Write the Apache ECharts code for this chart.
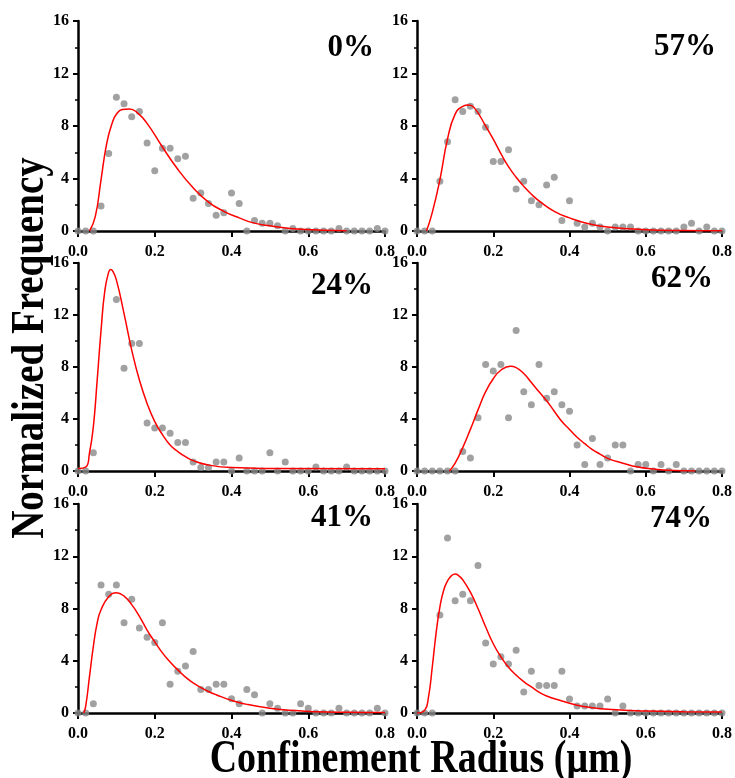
<!DOCTYPE html>
<html>
<head>
<meta charset="utf-8">
<script src="https://cdn.jsdelivr.net/npm/echarts@6/dist/echarts.min.js"></script>
<style>
  html, body { margin: 0; padding: 0; background: #fff; }
  #main { width: 735px; height: 778px; }
</style>
</head>
<body>
<div id="main"></div>
<script>
// bin centres (µm)
var binX = [0, 0.02, 0.04, 0.06, 0.08, 0.10, 0.12, 0.14, 0.16, 0.18, 0.20, 0.22, 0.24, 0.26, 0.28, 0.30,
  0.32, 0.34, 0.36, 0.38, 0.40, 0.42, 0.44, 0.46, 0.48, 0.50, 0.52, 0.54, 0.56, 0.58, 0.60,
  0.62, 0.64, 0.66, 0.68, 0.70, 0.72, 0.74, 0.76, 0.78, 0.80];

var panelNames = ['0%', '57%', '24%', '62%', '41%', '74%'];

// measured histogram values
var freq0  = [0, 0, 0, 1.9, 5.9, 10.2, 9.7, 8.7, 9.1, 6.7, 4.6, 6.3, 6.3, 5.5, 5.7, 2.5, 2.9, 2.1, 1.2, 1.4, 2.9, 2.1, 0, 0.8, 0.6, 0.6, 0.4, 0, 0.2, 0, 0, 0, 0, 0, 0.2, 0, 0, 0, 0, 0.2, 0];
var freq57 = [0, 0, 0, 3.8, 6.8, 10.0, 9.1, 9.5, 9.1, 7.9, 5.3, 5.3, 6.2, 3.2, 3.8, 2.3, 2.0, 3.5, 4.1, 0.8, 2.3, 0.6, 0.3, 0.6, 0.3, 0, 0.3, 0.3, 0.3, 0, 0, 0, 0, 0, 0, 0.3, 0.6, 0, 0.3, 0, 0];
var freq24 = [0, 0, 1.4, null, null, 13.2, 7.9, 9.8, 9.8, 3.7, 3.3, 3.3, 2.9, 2.2, 2.2, 0.7, 0.26, 0.26, 0.7, 0.7, 0, 1.0, 0, 0, 0, 1.4, 0, 0.7, 0, 0, 0, 0.3, 0, 0, 0, 0.3, 0, 0, 0, 0, 0];
var freq62 = [0, 0, 0, 0, 0, 0, 1.5, 1.0, 4.1, 8.2, 7.7, 8.2, 4.1, 10.8, 6.1, 5.1, 8.2, 5.6, 6.1, 5.1, 4.6, 2.0, 0.5, 2.5, 0.5, 1.0, 2.0, 2.0, 0, 0.5, 0.5, 0, 0.5, 0, 0.5, 0, 0, 0, 0, 0, 0];
var freq41 = [0, 0, 0.7, 9.8, 9.1, 9.8, 6.9, 8.7, 6.5, 5.8, 5.4, 6.9, 2.2, 3.2, 3.6, 4.7, 1.8, 1.8, 2.2, 2.2, 1.1, 0.7, 1.8, 1.4, 0, 0.7, 0.36, 0, 0, 0.7, 0.36, 0, 0, 0, 0.36, 0, 0, 0, 0, 0.36, 0];
var freq74 = [0, 0, 0, 7.5, 13.4, 8.6, 9.1, 8.6, 11.3, 5.35, 3.75, 4.3, 3.75, 4.8, 1.6, 3.2, 2.1, 2.1, 2.1, 3.2, 1.07, 0.53, 0.53, 0.53, 0.53, 1.07, 0, 0.53, 0, 0, 0, 0, 0, 0, 0, 0, 0, 0, 0, 0, 0];

// fitted curves
var fit0X  = [0.03, 0.045, 0.06, 0.075, 0.09, 0.10, 0.115, 0.134, 0.155, 0.18, 0.22, 0.26, 0.30, 0.34, 0.38, 0.42, 0.46, 0.50, 0.58, 0.70];
var fit0Y  = [0, 1.1, 3.9, 6.7, 8.3, 8.9, 9.25, 9.3, 9.0, 8.2, 6.4, 4.7, 3.3, 2.2, 1.5, 1.0, 0.6, 0.4, 0.13, 0.02];
var fit57X = [0.025, 0.04, 0.06, 0.08, 0.10, 0.12, 0.135, 0.15, 0.18, 0.20, 0.22, 0.24, 0.26, 0.28, 0.30, 0.32, 0.36, 0.40, 0.45, 0.50, 0.60, 0.70, 0.80];
var fit57Y = [0, 1.4, 3.9, 7.0, 8.9, 9.5, 9.6, 9.4, 8.0, 7.0, 5.9, 4.9, 4.1, 3.4, 2.8, 2.3, 1.5, 1.0, 0.55, 0.3, 0.1, 0.03, 0.01];
var fit24X = [0, 0.02, 0.03, 0.04, 0.05, 0.06, 0.07, 0.08, 0.085, 0.09, 0.10, 0.12, 0.14, 0.16, 0.18, 0.20, 0.22, 0.24, 0.26, 0.28, 0.30, 0.34, 0.40, 0.50, 0.80];
var fit24Y = [0.2, 0.3, 1.4, 3.4, 7.0, 10.8, 13.9, 15.3, 15.5, 15.4, 14.7, 12.1, 9.3, 7.0, 5.2, 3.8, 2.8, 2.0, 1.5, 1.1, 0.8, 0.46, 0.26, 0.2, 0.18];
var fit62X = [0.085, 0.10, 0.12, 0.14, 0.16, 0.18, 0.20, 0.22, 0.245, 0.26, 0.28, 0.30, 0.32, 0.34, 0.36, 0.38, 0.40, 0.42, 0.44, 0.46, 0.48, 0.50, 0.54, 0.58, 0.62, 0.66, 0.73];
var fit62Y = [0, 0.6, 1.8, 3.2, 4.7, 6.1, 7.1, 7.75, 8.05, 7.95, 7.5, 6.8, 6.1, 5.4, 4.6, 3.8, 3.2, 2.6, 2.1, 1.65, 1.3, 0.97, 0.6, 0.3, 0.15, 0.05, 0];
var fit41X = [0.015, 0.02, 0.03, 0.04, 0.05, 0.06, 0.08, 0.10, 0.12, 0.14, 0.16, 0.18, 0.20, 0.22, 0.24, 0.26, 0.28, 0.30, 0.32, 0.34, 0.36, 0.40, 0.44, 0.50, 0.56, 0.62, 0.70, 0.80];
var fit41Y = [0, 0.5, 2.8, 5.1, 6.9, 7.9, 8.9, 9.2, 8.95, 8.3, 7.4, 6.35, 5.45, 4.6, 3.9, 3.3, 2.75, 2.3, 1.95, 1.65, 1.4, 0.97, 0.66, 0.36, 0.2, 0.1, 0.05, 0.03];
var fit74X = [0, 0.02, 0.03, 0.04, 0.05, 0.06, 0.07, 0.08, 0.09, 0.10, 0.11, 0.12, 0.14, 0.16, 0.18, 0.20, 0.22, 0.24, 0.26, 0.28, 0.30, 0.32, 0.34, 0.38, 0.42, 0.46, 0.50, 0.60, 0.70, 0.80];
var fit74Y = [0, 0.2, 1.2, 3.5, 6.1, 8.1, 9.4, 10.1, 10.5, 10.65, 10.5, 10.2, 9.25, 8.0, 6.6, 5.3, 4.3, 3.5, 2.9, 2.4, 2.0, 1.6, 1.3, 0.92, 0.6, 0.4, 0.28, 0.15, 0.1, 0.08];

var freqs = [freq0, freq57, freq24, freq62, freq41, freq74];
var fitXs = [fit0X, fit57X, fit24X, fit62X, fit41X, fit74X];
var fitYs = [fit0Y, fit57Y, fit24Y, fit62Y, fit41Y, fit74Y];

var yTicks = [0, 4, 8, 12, 16];
var xTicks = [0, 0.2, 0.4, 0.6, 0.8];

// layout
var grids = [
  { left: 78,  top: 21,  width: 307, height: 210 },
  { left: 417, top: 21,  width: 307, height: 210 },
  { left: 78,  top: 263, width: 307, height: 208 },
  { left: 417, top: 263, width: 307, height: 208 },
  { left: 78,  top: 504, width: 307, height: 209 },
  { left: 417, top: 504, width: 307, height: 209 }
];
var labelPos = [[374, 48], [716, 47], [373, 286], [713, 279], [373, 518], [712, 519]];

var serif = '"Liberation Serif", "Times New Roman", serif';

function pair(xs, ys) {
  var out = [];
  for (var i = 0; i < xs.length; i++) {
    if (ys[i] !== null) out.push([xs[i], ys[i]]);
  }
  return out;
}

var xAxes = [], yAxes = [], series = [], graphics = [];
for (var k = 0; k < 6; k++) {
  xAxes.push({
    gridIndex: k, type: 'value', min: xTicks[0], max: xTicks[xTicks.length - 1], interval: 0.2,
    axisLine: { onZero: false, lineStyle: { color: '#000', width: 2.5 } },
    axisTick: { show: true, length: 6, lineStyle: { color: '#000', width: 2 } },
    axisLabel: {
      margin: 13, color: '#000', fontFamily: serif, fontWeight: 'bold', fontSize: 16,
      formatter: function (v) { return v.toFixed(1); }
    },
    splitLine: { show: false }
  });
  yAxes.push({
    gridIndex: k, type: 'value', min: yTicks[0], max: yTicks[yTicks.length - 1], interval: 4,
    axisLine: { show: true, lineStyle: { color: '#000', width: 2.5 } },
    axisTick: { show: true, length: 5, lineStyle: { color: '#000', width: 2 } },
    minorTick: { show: true, splitNumber: 2, length: 3, lineStyle: { color: '#000', width: 1.5 } },
    axisLabel: { margin: 9, color: '#000', fontFamily: serif, fontWeight: 'bold', fontSize: 16 },
    splitLine: { show: false }
  });
  series.push({
    type: 'scatter', xAxisIndex: k, yAxisIndex: k, clip: false,
    symbolSize: 7, itemStyle: { color: '#8a8a8a' },
    data: pair(binX, freqs[k]), z: 3
  });
  series.push({
    type: 'line', xAxisIndex: k, yAxisIndex: k, showSymbol: false,
    smooth: 0.5,
    lineStyle: { color: '#ff0000', width: 1.5 },
    data: pair(fitXs[k], fitYs[k]), z: 4
  });
  graphics.push({
    type: 'text', x: labelPos[k][0], y: labelPos[k][1],
    style: {
      text: panelNames[k], fill: '#000', font: 'bold 31px ' + serif,
      textAlign: 'right', textVerticalAlign: 'middle'
    }
  });
}

graphics.push({
  type: 'text', x: 31, y: 348, rotation: Math.PI / 2, scaleY: 1.2,
  style: {
    text: 'Normalized Frequency', fill: '#000', font: 'bold 39px ' + serif,
    textAlign: 'center', textVerticalAlign: 'middle'
  }
});
graphics.push({
  type: 'text', x: 421, y: 760, scaleY: 1.2,
  style: {
    text: 'Confinement Radius (μm)', fill: '#000', font: 'bold 38px ' + serif,
    textAlign: 'center', textVerticalAlign: 'middle'
  }
});

var myChart = echarts.init(document.getElementById('main'));
myChart.setOption({
  animation: false,
  backgroundColor: '#fff',
  grid: grids,
  xAxis: xAxes,
  yAxis: yAxes,
  series: series,
  graphic: graphics
});
</script>
</body>
</html>
